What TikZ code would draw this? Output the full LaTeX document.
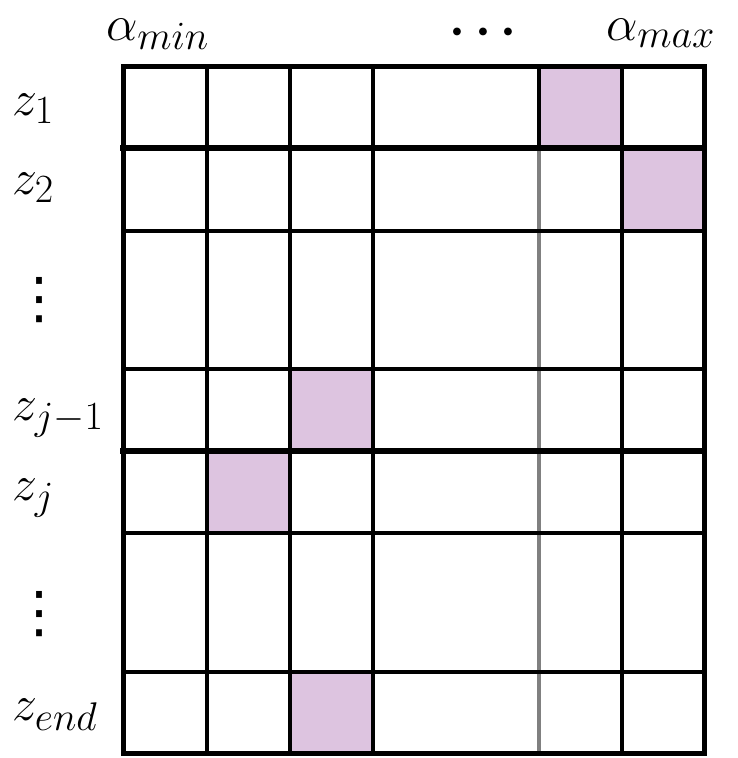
\RequirePackage{fix-cm}
\documentclass[tikz,border=0pt]{standalone}
\usepackage{amsmath}
\usepackage{fontspec}
\newfontfamily\dvsans{DejaVu Sans}
\DeclareMathSizes{50}{50}{40}{30}
\definecolor{cellpink}{RGB}{221,196,224}
\definecolor{gridgray}{RGB}{128,128,128}
\begin{document}
\begin{tikzpicture}[x=1pt,y=-1pt,
  lbl/.style={inner sep=0pt, font=\fontsize{50}{60}\selectfont, anchor=base west},
  hdotsnode/.style={inner sep=0pt, anchor=base, font={\fontsize{50}{60}\selectfont\boldmath}},
  vdotsnode/.style={inner sep=0pt, font={\fontsize{56}{60}\selectfont\dvsans}},
  gridline/.style={line width=4pt, line cap=rect},
  thickline/.style={line width=6pt, line cap=rect},
  outline/.style={line width=5pt, line join=miter},
  cellfill/.style={fill=cellpink}]
\useasboundingbox (0,0) rectangle (737,758);
% shaded cells
\fill[cellfill] (539,66) rectangle (622,148);
\fill[cellfill] (622,148) rectangle (704,231);
\fill[cellfill] (290,369) rectangle (373,451);
\fill[cellfill] (207,451) rectangle (290,533);
\fill[cellfill] (290,672) rectangle (373,753);
% vertical inner lines
\foreach \x in {207,290,373,622} \draw[gridline] (\x,66) -- (\x,753);
\draw[gridline] (539,66) -- (539,148);
\draw[gridline, draw=gridgray, line cap=butt] (539,150) -- (539,753);
% horizontal inner lines
\foreach \y in {231,369,533,672} \draw[gridline] (123,\y) -- (704,\y);
\foreach \y in {148,451} \draw[thickline] (123,\y) -- (704,\y);
% outer frame
\draw[outline] (123,66) rectangle (704,753);
% column labels
\node[lbl] (amin) at (106,40) {$\alpha_{min}$};
\node[hdotsnode] (hdots) at (488,44) {$\cdots$};
\node[lbl] (amax) at (606,40) {$\alpha_{max}$};
% row labels
\node[lbl] (z1) at (12,115) {$z_1$};
\node[lbl] (z2) at (12,194) {$z_2$};
\node[vdotsnode] (vd1) at (39,300) {⋮};
\node[lbl] (zjm) at (12,420) {$z_{j-1}$};
\node[lbl] (zj) at (12,500) {$z_j$};
\node[vdotsnode] (vd2) at (39,614) {⋮};
\node[lbl] (zend) at (12,720) {$z_{end}$};
\end{tikzpicture}
\end{document}
